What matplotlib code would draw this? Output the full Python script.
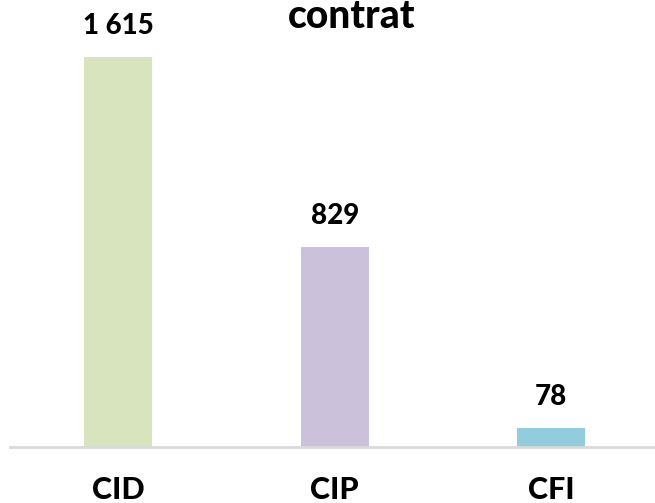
import matplotlib.pyplot as plt

categories = ['CID', 'CIP', 'CFI']
values = [1615, 829, 78]
value_labels = ['1 615', '829', '78']
colors = ['#D7E4BD', '#CCC1DA', '#93CDDD']

plt.rcParams['font.family'] = ['Lato', 'DejaVu Sans']

fig = plt.figure(figsize=(6.55, 5.03), dpi=100)
ax = fig.add_axes([10 / 655, 56 / 503, 645 / 655, 447 / 503])

x = range(len(categories))
ax.bar(x, values, width=0.314, color=colors)

for xi, v, lab in zip(x, values, value_labels):
    ax.annotate(lab, (xi, v), xytext=(0, 13), textcoords='offset points',
                ha='center', va='bottom', fontsize=20, fontweight='black')

ax.set_xlim(-0.5, 2.48)
ax.set_ylim(0, 1851)
ax.set_xticks(list(x))
ax.set_xticklabels(categories, fontsize=22, fontweight='black')
ax.tick_params(axis='x', length=0, pad=21)
ax.set_yticks([])

for side in ['top', 'right', 'left']:
    ax.spines[side].set_visible(False)
ax.spines['bottom'].set_color('#D9D9D9')
ax.spines['bottom'].set_linewidth(2)

fig.text(352 / 655, 1 - 28 / 503, 'contrat', ha='center', va='baseline',
         fontsize=28, fontweight='black')

fig.savefig('out.png', dpi=100)
